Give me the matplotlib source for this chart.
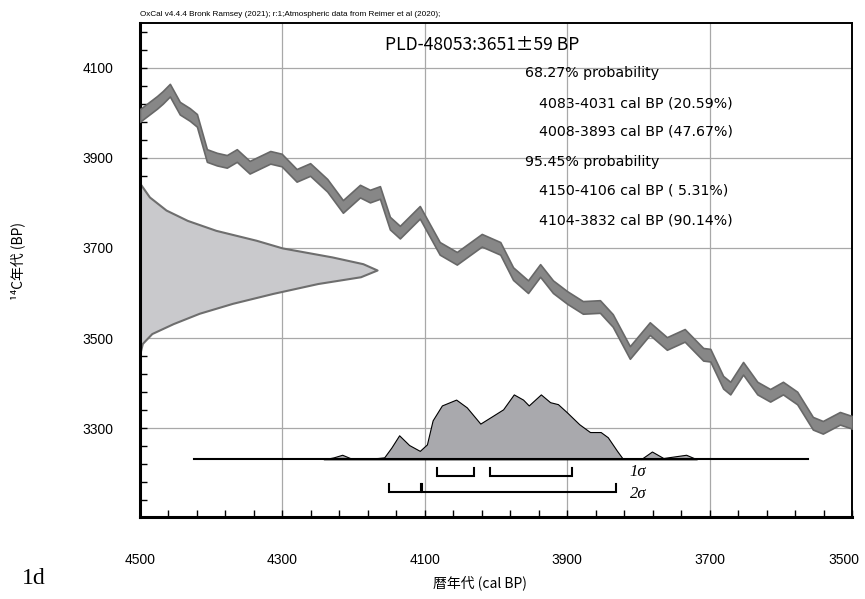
import matplotlib
matplotlib.use("Agg")
import matplotlib.pyplot as plt
from matplotlib.ticker import MultipleLocator
from matplotlib.transforms import ScaledTranslation
import numpy as np

# calibration curve (cal BP, 14C BP)
curve_cal = [4500, 4476, 4468, 4458, 4444, 4430, 4420, 4406, 4392, 4378, 4364, 4346,
             4317, 4301, 4280, 4261, 4237, 4215, 4191, 4177, 4163, 4149, 4135, 4107,
             4079, 4055, 4020, 3994, 3976, 3955, 3938, 3920, 3900, 3878, 3854, 3836,
             3812, 3784, 3760, 3735, 3709, 3699, 3681, 3671, 3653, 3633, 3615, 3597,
             3577, 3555, 3541, 3517, 3500]
curve_c14 = [3994, 4023, 4034, 4050, 4010, 3996, 3983, 3905, 3897, 3892, 3905, 3879,
             3901, 3895, 3861, 3874, 3839, 3792, 3826, 3815, 3823, 3755, 3735, 3779,
             3699, 3677, 3717, 3699, 3643, 3614, 3650, 3614, 3590, 3568, 3570, 3539,
             3468, 3521, 3488, 3506, 3464, 3462, 3402, 3389, 3433, 3389, 3373, 3389,
             3367, 3311, 3302, 3322, 3313]
curve_err = 14

# measured radiocarbon date 3651 +/- 59 BP, relative density on the 14C axis
date_c14 = [3843, 3813, 3784, 3761, 3739, 3717, 3700, 3680, 3665, 3651, 3636,
            3621, 3599, 3577, 3555, 3532, 3510, 3488, 3466]
date_rel = [0.0, 0.04, 0.11, 0.20, 0.32, 0.49, 0.60, 0.81, 0.94, 1.0, 0.93,
            0.75, 0.56, 0.39, 0.25, 0.14, 0.05, 0.01, 0.0]

# calibrated probability distribution
post_cal = [4242, 4228, 4216, 4205, 4191, 4166, 4157, 4147, 4136, 4122, 4107, 4097,
            4089, 4076, 4056, 4041, 4022, 4003, 3990, 3975, 3962, 3954, 3937, 3924,
            3913, 3900, 3883, 3868, 3853, 3843, 3830, 3822, 3796, 3781, 3765, 3733, 3718]
post_rel = [0.0, 0.03, 0.07, 0.02, 0.01, 0.02, 0.03, 0.18, 0.37, 0.22, 0.13, 0.23,
            0.60, 0.83, 0.92, 0.80, 0.55, 0.68, 0.77, 1.00, 0.92, 0.83, 1.00, 0.88,
            0.85, 0.72, 0.54, 0.42, 0.42, 0.34, 0.13, 0.01, 0.005, 0.12, 0.02, 0.07, 0.0]
post_base = 3231
post_range = (4424, 3562)

sigma1 = [(4083, 4031), (4008, 3893)]
sigma2 = [(4150, 4106), (4104, 3832)]

title = "PLD-48053:3651±59 BP"
summary = ["68.27% probability",
           "4083-4031 cal BP (20.59%)",
           "4008-3893 cal BP (47.67%)",
           "95.45% probability",
           "4150-4106 cal BP ( 5.31%)",
           "4104-3832 cal BP (90.14%)"]
header = "OxCal v4.4.4 Bronk Ramsey (2021); r:1;Atmospheric data from Reimer et al (2020);"

jp = ["Noto Sans CJK JP", "DejaVu Sans"]
tickfont = ["DejaVu Sans Condensed", "Liberation Sans"]

fig = plt.figure(figsize=(8.65, 5.99), dpi=100)
ax = fig.add_axes([0.1618, 0.1369, 0.8232, 0.8247])
ax.set_xlim(4500, 3500)
ax.set_ylim(3103, 4199)

ax.grid(True, color="#a8a8a8", linewidth=0.9, zorder=0)
ax.xaxis.set_major_locator(MultipleLocator(200, offset=100))
ax.yaxis.set_major_locator(MultipleLocator(200, offset=100))
ax.xaxis.set_minor_locator(MultipleLocator(40, offset=20))
ax.yaxis.set_minor_locator(MultipleLocator(40, offset=20))
ax.tick_params(which="both", direction="in", length=5, width=1.0, color="black")
ax.tick_params(axis="x", pad=26, labelsize=10)
ax.tick_params(axis="y", pad=19, labelsize=10)
for side in ["left", "bottom"]:
    ax.spines[side].set_linewidth(2.2)
for side in ["top", "right"]:
    ax.spines[side].set_linewidth(1.4)

# radiocarbon date on the y axis
date_w = 333 * np.array(date_rel)
ax.fill_betweenx(date_c14, 4500, 4500 - date_w, facecolor="#c9c9cc",
                 edgecolor="#6e6e6e", linewidth=1.5, joinstyle="round", zorder=2)

# calibration curve band
cc = np.array(curve_c14)
ax.fill_between(curve_cal, cc - curve_err, cc + curve_err, facecolor="#878787",
                edgecolor="#686868", linewidth=1.2, joinstyle="round", zorder=3)

# calibrated distribution
ph = 144 * np.array(post_rel)
ax.fill_between(post_cal, post_base, post_base + ph, facecolor="#a9a9ad",
                edgecolor="black", linewidth=0.8, joinstyle="round", zorder=4)
ax.plot(post_range, [post_base, post_base], color="black", linewidth=1.5, zorder=5)

# sigma range brackets
def bracket(a, b, y, h):
    ax.plot([a, a, b, b], [y + h, y, y, y + h], color="black", linewidth=1.5,
            solid_joinstyle="miter", zorder=5)

for a, b in sigma1:
    bracket(a, b, 3194, 17)
for a, b in sigma2:
    bracket(a, b, 3159, 17)
ax.text(3812, 3202, "1σ", fontsize=12, family="Liberation Serif",
        style="italic", va="center", ha="left")
ax.text(3812, 3153, "2σ", fontsize=12, family="Liberation Serif",
        style="italic", va="center", ha="left")

ax.text(0.344, 0.955, title, transform=ax.transAxes, fontsize=12.6, family=jp,
        va="center", ha="left")
ys = [0.899, 0.838, 0.781, 0.719, 0.660, 0.601]
for i, s in enumerate(summary):
    x0 = 0.541 if "probability" in s else 0.560
    ax.text(x0, ys[i], s, transform=ax.transAxes, fontsize=10.2,
            family="DejaVu Sans", va="center", ha="left")

fig.text(0.1618, 0.975, header, fontsize=5.9, family="Liberation Sans",
         va="center", ha="left")
fig.text(0.021, 0.564, "¹⁴C年代 (BP)", rotation=90, fontsize=10, family=jp,
         va="center", ha="center")
fig.text(0.555, 0.027, "暦年代 (cal BP)", fontsize=10, family=jp,
         va="center", ha="center")
fig.text(0.025, 0.035, "1d", fontsize=17, family="Liberation Serif",
         va="center", ha="left")

fig.canvas.draw()
for t in ax.xaxis.get_major_ticks() + ax.yaxis.get_major_ticks():
    t.label1.set_family(tickfont)
for t in ax.xaxis.get_major_ticks():
    if abs(t.get_loc() - 3500) < 1:
        t.label1.set_transform(t.label1.get_transform() +
                               ScaledTranslation(-6 / 72, 0, fig.dpi_scale_trans))

fig.savefig("out.png", dpi=100)
